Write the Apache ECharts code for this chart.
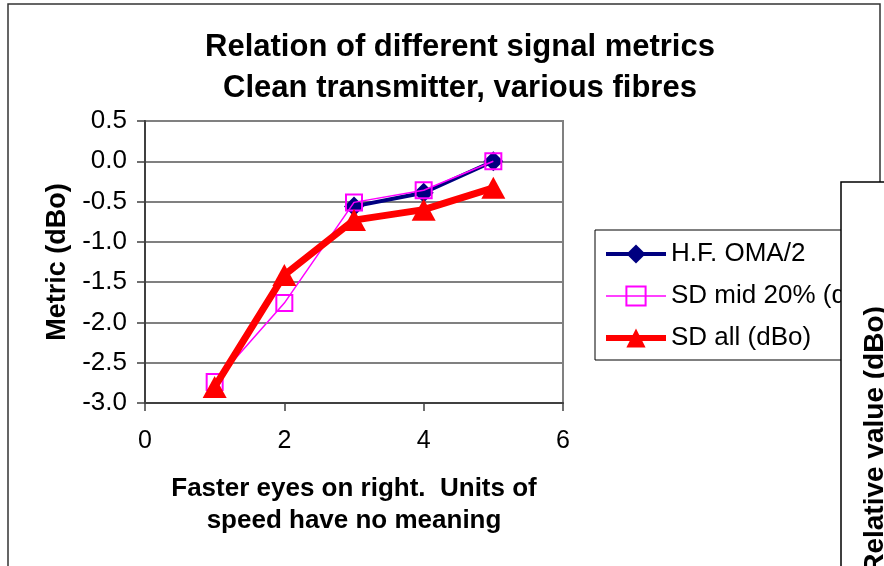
<!DOCTYPE html>
<html>
<head>
<meta charset="utf-8">
<title>Relation of different signal metrics</title>
<script src="https://cdn.jsdelivr.net/npm/echarts@6/dist/echarts.min.js"></script>
<style>
  html, body { margin: 0; padding: 0; background: #ffffff; }
  #chart { width: 884px; height: 566px; }
</style>
</head>
<body>
<div id="chart"></div>
<script>
// Relative speed of each eye (x) and the metrics measured for it (dBo)
const speeds = [1, 2, 3, 4, 5];
const hfOmaHalf = [null, null, -0.56, -0.39, 0.0];   // H.F. OMA/2
const sdMid20 = [-2.74, -1.76, -0.51, -0.36, 0.0];   // SD mid 20% (dBo)
const sdAll = [-2.80, -1.41, -0.73, -0.60, -0.33];   // SD all (dBo)

const seriesNames = ['H.F. OMA/2', 'SD mid 20% (dBo)', 'SD all (dBo)'];
const xTicks = { min: 0, max: 6, step: 2 };
const yTicks = { min: -3.0, max: 0.5, step: 0.5 };

const FONT = '"Liberation Sans", Arial, Helvetica, sans-serif';
const NAVY = '#000080', MAGENTA = '#ff00ff', RED = '#ff0000';

function pairs(values) {
  const out = [];
  values.forEach((v, i) => { if (v !== null) out.push([speeds[i], v]); });
  return out;
}

const chart = echarts.init(document.getElementById('chart'), null, { renderer: 'canvas' });

chart.setOption({
  animation: false,
  backgroundColor: '#ffffff',
  textStyle: { fontFamily: FONT, color: '#000' },
  title: {
    text: 'Relation of different signal metrics\nClean transmitter, various fibres',
    left: 455,
    top: 22,
    textAlign: 'center',
    textStyle: { fontFamily: FONT, fontSize: 31, fontWeight: 'bold', lineHeight: 41, color: '#000' }
  },
  grid: {
    left: 145, right: 321, top: 121, bottom: 163,
    show: true, borderColor: '#808080', borderWidth: 2, backgroundColor: 'transparent'
  },
  legend: {
    orient: 'vertical',
    left: 595,
    top: 230,
    padding: [11, 40, 9, 8],
    itemWidth: 60,
    itemHeight: 24,
    itemGap: 16,
    backgroundColor: '#ffffff',
    borderColor: '#000',
    borderWidth: 1,
    borderRadius: 0,
    data: [
      { name: seriesNames[0], lineStyle: { width: 4, color: NAVY }, itemStyle: { color: NAVY } },
      { name: seriesNames[1], lineStyle: { width: 1.5, color: MAGENTA } },
      { name: seriesNames[2], lineStyle: { width: 6, color: RED }, itemStyle: { color: RED } }
    ],
    textStyle: { fontFamily: FONT, fontSize: 26, lineHeight: 26, color: '#000' }
  },
  xAxis: {
    type: 'value',
    min: xTicks.min, max: xTicks.max, interval: xTicks.step,
    name: 'Faster eyes on right.  Units of\nspeed have no meaning',
    nameLocation: 'middle',
    nameGap: 70,
    nameTextStyle: { fontFamily: FONT, fontSize: 26, fontWeight: 'bold', lineHeight: 32, color: '#000' },
    axisLine: { show: true, onZero: false, lineStyle: { color: '#404040', width: 2 } },
    axisTick: { show: true, length: 8, lineStyle: { color: '#404040', width: 1.5 } },
    axisLabel: { fontFamily: FONT, fontSize: 25, color: '#000', margin: 26 },
    splitLine: { show: false }
  },
  yAxis: {
    type: 'value',
    min: yTicks.min, max: yTicks.max, interval: yTicks.step,
    name: 'Metric (dBo)',
    nameLocation: 'middle',
    nameGap: 74,
    nameRotate: 90,
    nameTextStyle: { fontFamily: FONT, fontSize: 27, fontWeight: 'bold', color: '#000' },
    axisLine: { show: true, onZero: false, lineStyle: { color: '#404040', width: 2 } },
    axisTick: { show: true, length: 8, lineStyle: { color: '#404040', width: 1.5 } },
    axisLabel: {
      fontFamily: FONT, fontSize: 26, color: '#000', margin: 18,
      formatter: v => v.toFixed(1)
    },
    splitLine: { show: true, lineStyle: { color: '#808080', width: 2 } }
  },
  series: [
    {
      name: seriesNames[0],
      type: 'line',
      data: pairs(hfOmaHalf),
      z: 2,
      symbol: 'diamond',
      symbolSize: [20, 20],
      lineStyle: { color: NAVY, width: 4 },
      itemStyle: { color: NAVY }
    },
    {
      name: seriesNames[1],
      type: 'line',
      data: pairs(sdMid20),
      z: 3,
      symbol: 'rect',
      symbolSize: 16,
      lineStyle: { color: MAGENTA, width: 1.5 },
      itemStyle: { color: 'rgba(0,0,0,0)', borderColor: MAGENTA, borderWidth: 2 }
    },
    {
      name: seriesNames[2],
      type: 'line',
      data: pairs(sdAll),
      z: 4,
      symbol: 'triangle',
      symbolSize: [24, 22],
      lineStyle: { color: RED, width: 7 },
      itemStyle: { color: RED }
    }
  ],
  graphic: [
    {
      type: 'rect', z: -10, silent: true,
      shape: { x: 8, y: 4, width: 872, height: 620 },
      style: { fill: 'none', stroke: '#333333', lineWidth: 1.5 }
    },
    {
      type: 'rect', z: 100, silent: true,
      shape: { x: 841, y: 182, width: 120, height: 500 },
      style: { fill: '#ffffff', stroke: '#000000', lineWidth: 1.5 }
    },
    {
      type: 'text', z: 101, silent: true,
      x: 875, y: 440, rotation: Math.PI / 2,
      style: {
        text: 'Relative value (dBo)',
        fontFamily: FONT, fontSize: 28, fontWeight: 'bold',
        align: 'center', verticalAlign: 'middle', fill: '#000'
      }
    }
  ]
});
</script>
</body>
</html>
